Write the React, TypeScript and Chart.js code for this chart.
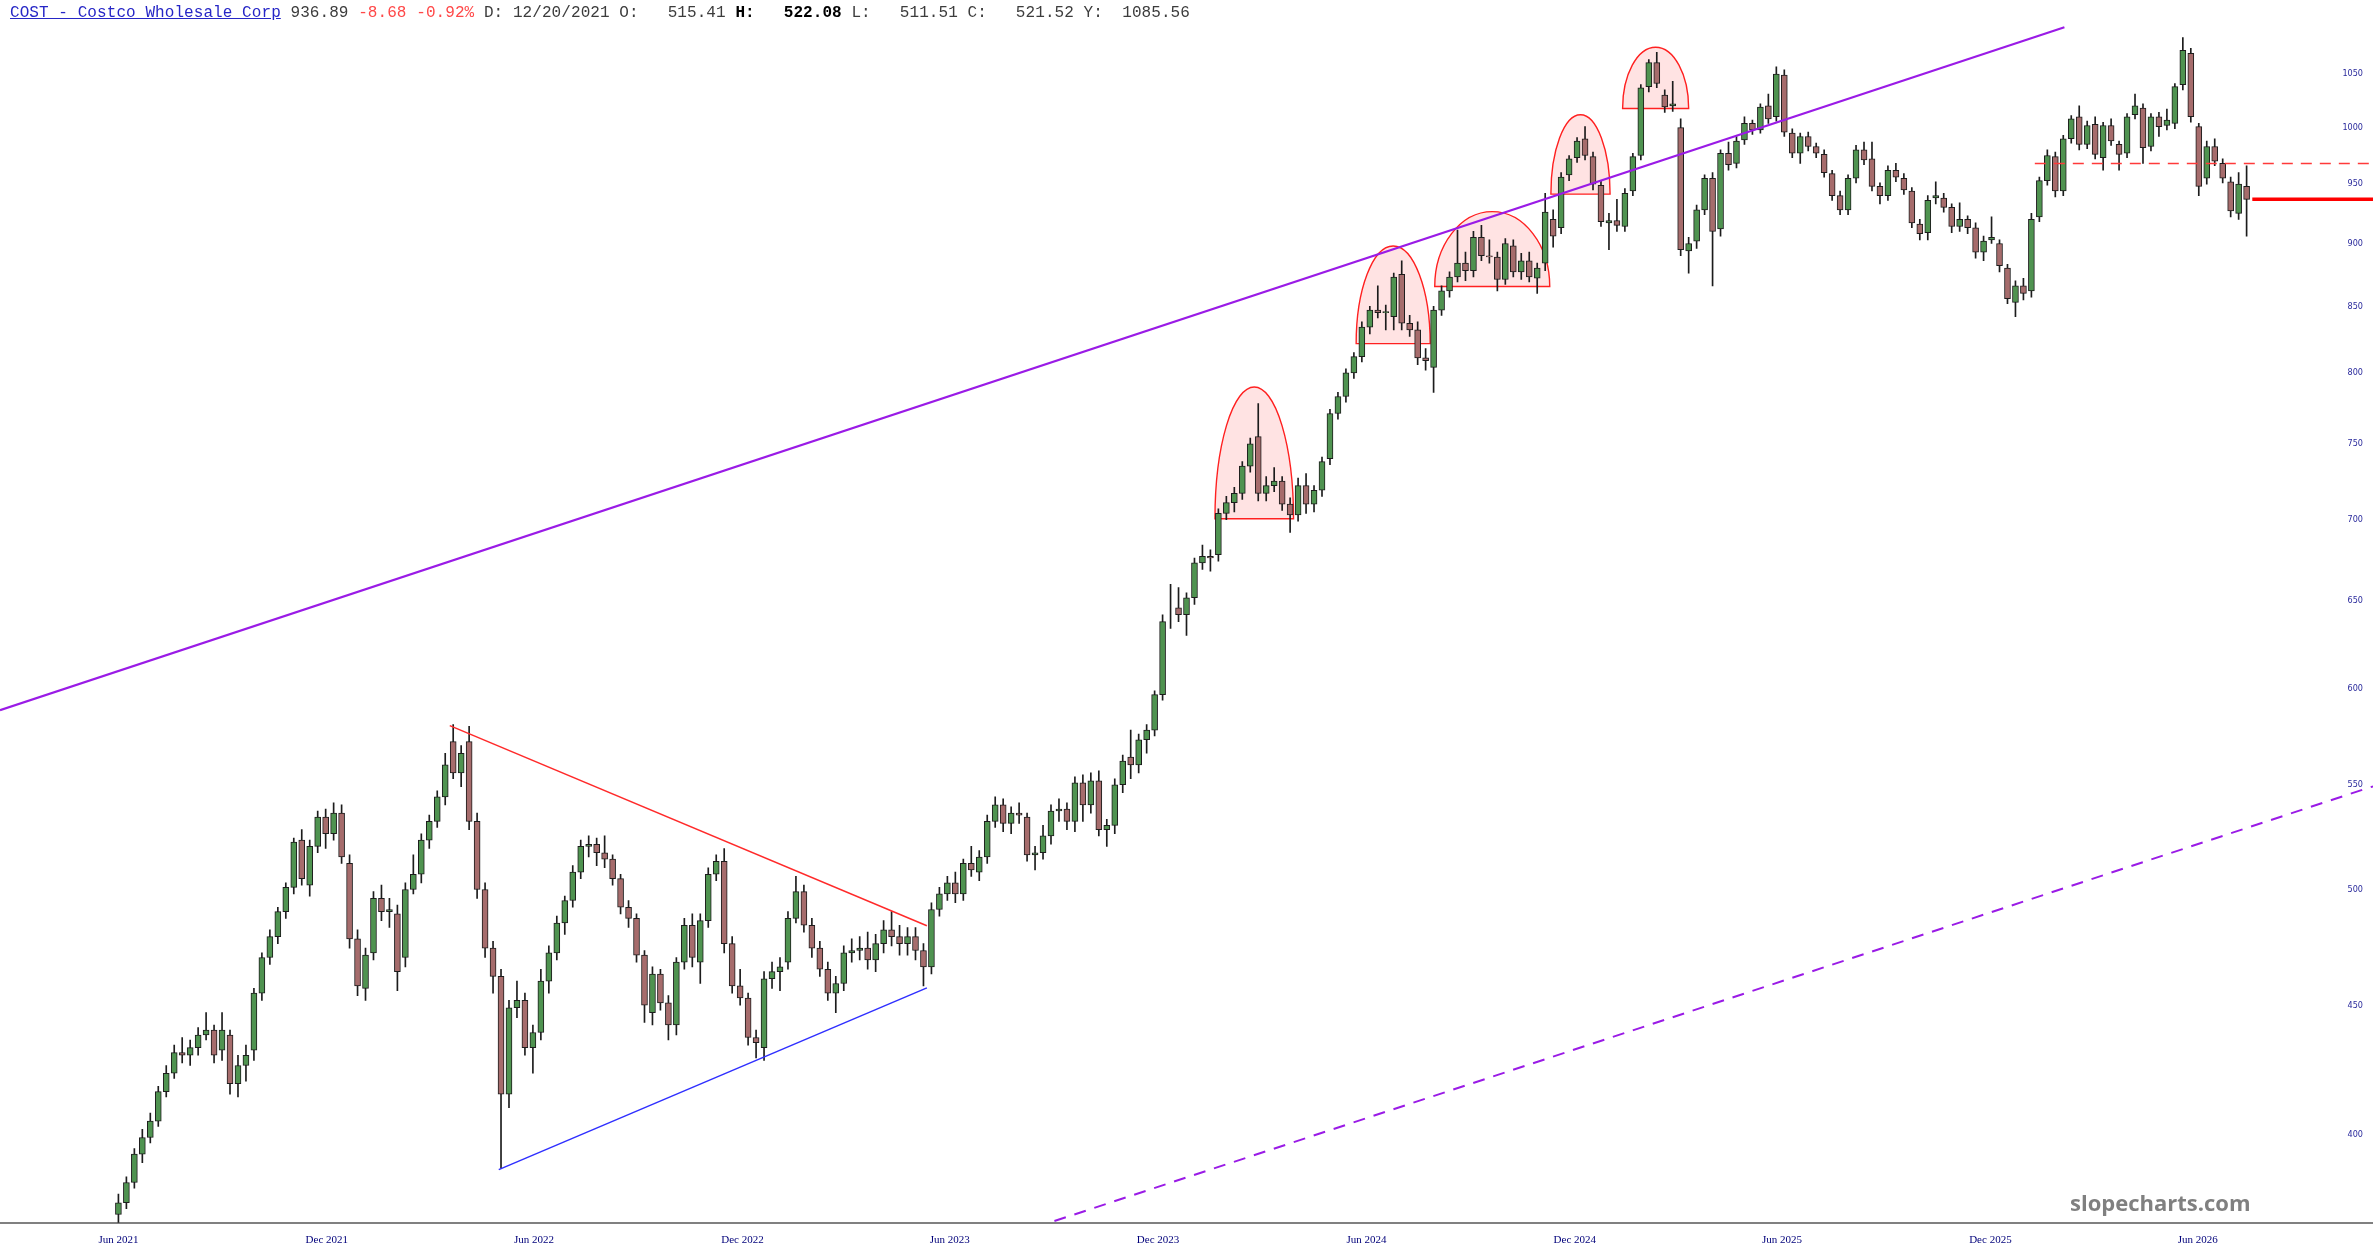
import React, { useEffect, useRef } from 'react';
import { Chart, registerables } from 'chart.js';

Chart.register(...registerables);

// ---------------- data ----------------
const START = '2021-06-01'; // first weekly candle; candle i sits 7*i days later

const opens = [
  372, 376, 383, 393, 399, 405, 416, 423, 431, 430, 433, 438, 440, 432, 438, 419, 426, 432, 455, 470,
  479, 490, 501, 523, 502, 520, 534, 526, 536, 512, 478, 457, 472, 496, 490, 489, 470, 500, 507, 523,
  532, 544, 572, 556, 572, 532, 500, 474, 462, 415, 449, 452, 433, 439, 460, 472, 485, 495, 508, 520,
  521, 517, 514, 505, 492, 487, 471, 447, 463, 451, 442, 468, 484, 468, 486, 507, 513, 476, 458, 453,
  437, 433, 461, 464, 468, 487, 499, 484, 474, 465, 455, 459, 472, 473, 474, 469, 476, 482, 479, 476,
  479, 473, 466, 491, 498, 503, 498, 512, 508, 515, 532, 540, 531, 536, 534, 516, 517, 525, 537, 538,
  532, 551, 540, 552, 528, 530, 550, 564, 560, 573, 578, 597, 645, 646, 642, 652, 673, 677, 678, 704,
  711, 717, 735, 755, 717, 722, 725, 710, 703, 722, 710, 719, 740, 771, 783, 800, 812, 834, 847, 845,
  842, 875, 837, 832, 811, 804, 847, 862, 873, 884, 878, 905, 890, 889, 871, 898, 877, 886, 872, 884,
  920, 913, 958, 973, 990, 974, 949, 917, 919, 914, 944, 975, 1038, 1061, 1030, 1020, 1000, 894, 902, 928,
  955, 912, 977, 968, 989, 1004, 998, 1020, 1010, 1049, 995, 977, 992, 983, 976, 959, 940, 928, 955, 980,
  972, 948, 940, 962, 955, 944, 916, 909, 938, 938, 930, 914, 920, 913, 893, 903, 900, 880, 853, 866,
  862, 922, 953, 974, 944, 990, 1010, 985, 1003, 973, 1002, 985, 977, 1012, 1018, 983, 1010, 1002, 1004, 1040,
  1070, 1001, 955, 983, 968, 952, 925, 948,
];
const highs = [
  379, 385, 395, 402, 408, 418, 426, 434, 437, 436, 441, 447, 442, 447, 440, 430, 434, 457, 472, 482,
  492, 503, 524, 528, 523, 537, 538, 541, 540, 516, 482, 474, 499, 502, 496, 493, 503, 516, 526, 535,
  547, 566, 581, 570, 580, 536, 503, 477, 465, 452, 460, 455, 442, 465, 475, 488, 497, 511, 523, 525,
  524, 525, 516, 507, 495, 489, 473, 466, 465, 454, 470, 487, 489, 489, 510, 516, 519, 479, 465, 455,
  440, 464, 468, 470, 490, 506, 502, 487, 477, 468, 462, 475, 478, 479, 481, 480, 486, 490, 484, 483,
  483, 476, 494, 501, 506, 508, 514, 520, 518, 535, 544, 543, 539, 541, 536, 520, 530, 540, 543, 541,
  554, 555, 556, 557, 533, 553, 565, 578, 576, 581, 599, 642, 660, 658, 655, 676, 684, 681, 707, 715,
  721, 738, 754, 778, 728, 734, 728, 714, 727, 730, 722, 741, 774, 786, 803, 815, 838, 850, 866, 851,
  876, 886, 843, 838, 818, 850, 866, 877, 911, 893, 910, 915, 903, 893, 904, 903, 892, 893, 884, 942,
  928, 960, 975, 991, 1001, 978, 953, 925, 937, 946, 977, 1040, 1064, 1071, 1035, 1043, 1008, 905, 932, 958,
  960, 980, 987, 992, 1010, 1007, 1022, 1031, 1057, 1054, 999, 995, 996, 986, 980, 962, 944, 958, 984, 987,
  987, 951, 966, 968, 959, 947, 920, 940, 952, 942, 933, 934, 923, 917, 906, 922, 903, 883, 870, 872,
  925, 956, 980, 978, 993, 1011, 1020, 1006, 1010, 1005, 1008, 988, 1013, 1031, 1022, 1013, 1014, 1017, 1041, 1085.56,
  1075, 1004, 988, 990, 972, 956, 960, 966,
];
const lows = [
  369, 374, 381, 390, 397, 403, 414, 421, 427, 426, 430, 436, 427, 428, 415, 414, 420, 428, 452, 467,
  476, 487, 498, 502, 497, 517, 519, 523, 512, 474, 454, 452, 469, 486, 483, 456, 466, 498, 503, 519,
  529, 540, 553, 549, 528, 496, 470, 455, 388, 410, 445, 430, 423, 436, 455, 469, 480, 492, 505, 515,
  511, 510, 502, 489, 483, 468, 443, 442, 448, 436, 438, 465, 466, 459, 483, 504, 472, 455, 450, 434,
  429, 428, 457, 456, 465, 485, 481, 470, 462, 452, 447, 456, 468, 469, 465, 464, 472, 475, 471, 471,
  469, 458, 463, 488, 495, 494, 495, 506, 504, 512, 529, 527, 526, 531, 513, 509, 514, 521, 532, 528,
  527, 532, 536, 525, 520, 526, 546, 553, 556, 566, 575, 594, 634, 638, 630, 648, 669, 668, 674, 700,
  705, 713, 731, 712, 712, 718, 706, 692, 699, 704, 705, 715, 736, 767, 779, 796, 808, 829, 841, 832,
  832, 832, 827, 806, 802, 786, 843, 857, 869, 870, 873, 886, 884, 862, 867, 873, 871, 869, 860, 878,
  897, 908, 953, 969, 971, 945, 914, 895, 910, 910, 940, 971, 1033, 1037, 1014, 1015, 890, 876, 896, 924,
  866, 906, 962, 964, 985, 994, 995, 1004, 1006, 992, 973, 968, 979, 973, 956, 936, 924, 924, 951, 967,
  944, 933, 936, 952, 941, 913, 903, 903, 933, 926, 909, 910, 908, 888, 886, 900, 877, 852, 842, 855,
  857, 918, 949, 939, 940, 986, 980, 981, 972, 962, 984, 962, 973, 1008, 968, 979, 992, 998, 999, 1035,
  1005, 940, 950, 966, 951, 922, 920, 906,
];
const closes = [
  376, 383, 393, 399, 405, 416, 423, 431, 430, 433, 438, 440, 430, 440, 419, 426, 430, 455, 470, 479,
  490, 501, 522, 505, 520, 534, 526, 536, 515, 478, 458, 471, 496, 490, 491, 464, 500, 507, 523, 532,
  544, 560, 556, 566, 532, 500, 474, 462, 415, 449, 452, 433, 439, 460, 472, 485, 495, 508, 520, 521,
  517, 514, 505, 492, 487, 471, 450, 463, 451, 442, 468, 484, 470, 486, 507, 513, 476, 458, 453, 437,
  435, 461, 464, 466, 487, 499, 484, 474, 465, 455, 459, 472, 473, 474, 469, 476, 482, 479, 476, 479,
  473, 466, 491, 498, 503, 498, 512, 509, 515, 532, 540, 531, 536, 535, 516, 517, 525, 537, 538, 532,
  551, 540, 552, 528, 530, 550, 562, 560, 573, 578, 597, 638, 645, 642, 652, 673, 677, 676, 704, 711,
  717, 735, 750, 717, 722, 725, 710, 703, 722, 710, 719, 738, 771, 783, 800, 812, 834, 847, 845, 846,
  873, 837, 832, 811, 809, 847, 862, 873, 884, 878, 905, 890, 889, 871, 900, 877, 886, 873, 880, 926,
  906, 956, 972, 988, 975, 950, 918, 919, 915, 942, 974, 1037, 1061, 1041, 1019, 1022, 895, 900, 928, 955,
  910, 977, 967, 988, 1004, 998, 1019, 1008, 1050, 996, 977, 992, 983, 977, 960, 940, 928, 955, 980, 971,
  948, 940, 962, 956, 945, 917, 908, 936, 940, 930, 914, 920, 913, 893, 902, 905, 882, 856, 866, 860,
  920, 953, 975, 944, 990, 1008, 985, 1002, 976, 1002, 988, 976, 1010, 1020, 982, 1010, 1001, 1007, 1038, 1073,
  1010, 948, 983, 970, 955, 927, 950, 936.89,
];

const xTickDates = [
  '2021-06-01', '2021-12-01', '2022-06-01', '2022-12-01', '2023-06-01', '2023-12-01',
  '2024-06-01', '2024-12-01', '2025-06-01', '2025-12-01', '2026-06-01',
];
const xTickLabels = [
  'Jun 2021', 'Dec 2021', 'Jun 2022', 'Dec 2022', 'Jun 2023', 'Dec 2023',
  'Jun 2024', 'Dec 2024', 'Jun 2025', 'Dec 2025', 'Jun 2026',
];
const yTickValues = [400, 450, 500, 550, 600, 650, 700, 750, 800, 850, 900, 950, 1000, 1050];

const xRange = ['2021-02-17', '2026-11-02'];
const yRange = [369.2, 1123.2];

// drawn studies: [date, price] end points
const channelUpper: [string, number][] = [['2021-02-17', 588.6], ['2026-02-04', 1095.7]];
const channelLower: [string, number][] = [['2023-09-01', 369.8], ['2026-11-02', 549.2]];
const wedgeUpper: [string, number][] = [['2022-03-19', 580.4], ['2023-05-12', 483.8]];
const wedgeLower: [string, number][] = [['2022-05-01', 387.5], ['2023-05-12', 457.2]];
const resistanceLevel: [string, number][] = [['2026-01-09', 967.9], ['2026-11-02', 967.9]];
const lastPriceLevel: [string, number][] = [['2026-07-19', 936.89], ['2026-11-02', 936.89]];

const domeStarts = ['2024-01-20', '2024-05-23', '2024-07-31', '2024-11-10', '2025-01-12'];
const domeEnds = ['2024-03-29', '2024-07-27', '2024-11-09', '2025-01-01', '2025-03-11'];
const domeBases = [700.6, 821.6, 865.4, 941.3, 1017.6];
const domeTops = [789.8, 898.0, 926.5, 1011.8, 1076.0];

const headerTicker = 'COST - Costco Wholesale Corp';
const headerLast = '936.89';
const headerChange = '-8.68 -0.92%';
const headerDate = '12/20/2021';
const headerO = '515.41';
const headerH = '522.08';
const headerL = '511.51';
const headerC = '521.52';
const headerY = '1085.56';

// ---------------- helpers ----------------
const dayOf = (s: string) =>
  (Date.parse(s + 'T00:00:00Z') - Date.parse(START + 'T00:00:00Z')) / 86400000;

const candleDays = closes.map((_, i) => 7 * i);
const xTickDays = xTickDates.map(dayOf);
const toPts = (pts: [string, number][]) => pts.map(([d, p]) => ({ x: dayOf(d), y: p }));

const UP = '#4f9350';
const DOWN = '#a66c6c';
const EDGE = '#1c1c1c';

const studiesPlugin = {
  id: 'studies',
  beforeDatasetsDraw(chart: any) {
    const { ctx, chartArea, scales } = chart;
    const x = scales.x;
    const y = scales.y;
    ctx.save();
    ctx.beginPath();
    ctx.rect(chartArea.left, chartArea.top, chartArea.right - chartArea.left, chartArea.bottom - chartArea.top);
    ctx.clip();
    for (let i = 0; i < domeStarts.length; i++) {
      const x1 = x.getPixelForValue(dayOf(domeStarts[i]));
      const x2 = x.getPixelForValue(dayOf(domeEnds[i]));
      const yb = y.getPixelForValue(domeBases[i]);
      const yt = y.getPixelForValue(domeTops[i]);
      ctx.beginPath();
      ctx.ellipse((x1 + x2) / 2, yb, (x2 - x1) / 2, yb - yt, 0, Math.PI, 2 * Math.PI);
      ctx.closePath();
      ctx.fillStyle = 'rgba(255, 40, 40, 0.13)';
      ctx.fill();
      ctx.strokeStyle = '#ff2020';
      ctx.lineWidth = 1.4;
      ctx.stroke();
    }
    ctx.restore();
  },
  afterDraw(chart: any) {
    const { ctx, chartArea, scales } = chart;
    const y = scales.y;
    ctx.save();
    ctx.font = "9px 'DejaVu Sans Condensed', 'DejaVu Sans', sans-serif";
    ctx.fillStyle = '#2a2a9c';
    ctx.textAlign = 'right';
    ctx.textBaseline = 'middle';
    yTickValues.forEach((v) => {
      ctx.fillText(String(v), chartArea.right - 10, y.getPixelForValue(v));
    });
    ctx.font = "bold 22px 'Open Sans', 'DejaVu Sans', sans-serif";
    ctx.fillStyle = '#808080';
    ctx.textAlign = 'left';
    ctx.textBaseline = 'alphabetic';
    ctx.fillText('slopecharts.com', 2070, 1210.5);
    ctx.restore();
  },
};

export default function App() {
  const canvasRef = useRef<HTMLCanvasElement | null>(null);

  useEffect(() => {
    if (!canvasRef.current) return;
    const lineDs = (pts: [string, number][], color: string, width: number, dash: number[] = []) => ({
      type: 'line' as const,
      data: toPts(pts),
      borderColor: color,
      borderWidth: width,
      borderDash: dash,
      pointRadius: 0,
      fill: false,
      tension: 0,
    });
    const chart = new Chart(canvasRef.current, {
      type: 'bar',
      data: {
        datasets: [
          lineDs(channelUpper, '#9a1be6', 2.2),
          lineDs(channelLower, '#9a1be6', 2, [12, 9]),
          lineDs(wedgeUpper, '#ff2a2a', 1.5),
          lineDs(wedgeLower, '#2f2fff', 1.5),
          lineDs(resistanceLevel, '#ff3a3a', 1.5, [11, 8]),
          lineDs(lastPriceLevel, '#ff0000', 3.5),
          {
            type: 'bar' as const,
            data: candleDays.map((d, i) => ({ x: d, y: [opens[i], closes[i]] })) as any,
            backgroundColor: closes.map((c, i) => (c >= opens[i] ? UP : DOWN)),
            borderColor: EDGE,
            borderWidth: 1,
            borderSkipped: false,
            barThickness: 6,
            grouped: false,
          },
          {
            type: 'bar' as const,
            data: candleDays.map((d, i) => ({ x: d, y: [lows[i], highs[i]] })) as any,
            backgroundColor: EDGE,
            borderWidth: 0,
            barThickness: 1,
            grouped: false,
          },
        ] as any,
      },
      options: {
        animation: false,
        responsive: true,
        maintainAspectRatio: false,
        layout: { padding: { top: 0, left: 0, right: 0, bottom: 10 } },
        plugins: { legend: { display: false }, tooltip: { enabled: false } },
        scales: {
          x: {
            type: 'linear',
            offset: false,
            min: dayOf(xRange[0]),
            max: dayOf(xRange[1]),
            grid: { display: false },
            border: { display: true, color: '#808080', width: 2 },
            afterBuildTicks: (scale: any) => {
              scale.ticks = xTickDays.map((v) => ({ value: v }));
            },
            ticks: {
              autoSkip: false,
              maxRotation: 0,
              minRotation: 0,
              padding: 3,
              color: '#00007a',
              font: { family: "'Liberation Serif', 'Times New Roman', serif", size: 11 },
              callback: (value: any) => {
                const k = xTickDays.indexOf(Number(value));
                return k >= 0 ? xTickLabels[k] : '';
              },
            },
          },
          y: {
            type: 'logarithmic',
            position: 'right',
            display: false,
            min: yRange[0],
            max: yRange[1],
          },
        },
      } as any,
      plugins: [studiesPlugin],
    });
    return () => chart.destroy();
  }, []);

  return (
    <div style={{ position: 'fixed', left: 0, top: 0, width: 2373, height: 1260, background: '#fff' }}>
      <canvas ref={canvasRef} />
      <div
        style={{
          position: 'absolute',
          left: 10,
          top: 4,
          fontFamily: "'Liberation Mono', 'Courier New', monospace",
          fontSize: 16,
          letterSpacing: '0.07px',
          whiteSpace: 'pre',
          color: '#3c3c3c',
          pointerEvents: 'none',
        }}
      >
        <span style={{ color: '#2626c6', textDecoration: 'underline' }}>{headerTicker}</span>
        {' ' + headerLast + ' '}
        <span style={{ color: '#ff4848' }}>{headerChange}</span>
        {' D: ' + headerDate + ' O:   ' + headerO + ' '}
        <b style={{ color: '#000' }}>{'H:   ' + headerH}</b>
        {' L:   ' + headerL + ' C:   ' + headerC + ' Y:  ' + headerY}
      </div>
    </div>
  );
}
